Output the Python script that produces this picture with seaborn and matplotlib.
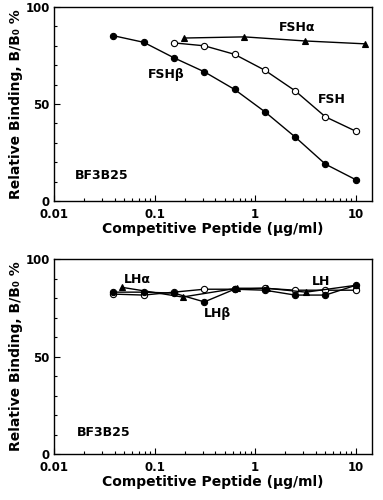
import numpy as np
import pandas as pd
import matplotlib
matplotlib.use("Agg")
import matplotlib.pyplot as plt
import seaborn as sns

# dose series (ug/ml), two-fold dilutions
dose = [0.039, 0.078, 0.156, 0.3125, 0.625, 1.25, 2.5, 5, 10]

# top panel: FSH family
fsh_beta = [85.2, 81.8, 73.8, 66.6, 57.5, 46, 33, 19, 11]
fsh_x = [0.156, 0.3125, 0.625, 1.25, 2.5, 5, 10]
fsh = [81.5, 80, 75.6, 67.4, 56.8, 43.4, 36]
fsh_alpha_x = [0.195, 0.78, 3.125, 12.5]
fsh_alpha = [84, 84.6, 82.5, 81]

# bottom panel: LH family
lh_beta = [83, 83, 82.5, 78, 84.5, 84, 81.5, 81.5, 86.5]
lh = [82, 81.5, 83, 84.5, 84.5, 85, 84, 84, 84]
lh_alpha_x = [0.047, 0.19, 0.66, 1.3, 3.2, 10]
lh_alpha = [85.5, 80.5, 85, 85, 83, 86.5]

sns.set_theme(style="ticks", rc={
    "text.color": "black",
    "axes.labelcolor": "black",
    "xtick.color": "black",
    "ytick.color": "black",
    "axes.edgecolor": "black",
})
plt.rcParams["font.family"] = ["DejaVu Sans"]
plt.rcParams["font.weight"] = "bold"

fig = plt.figure(figsize=(3.83, 5.0), dpi=100)
ax1 = fig.add_axes([0.141, 0.598, 0.830, 0.388])
ax2 = fig.add_axes([0.141, 0.092, 0.830, 0.390])

def series(ax, x, y, marker, filled=True):
    sns.lineplot(x=x, y=y, ax=ax, color="black", lw=1.0, marker=marker,
                 markersize=4.5, markeredgecolor="black", markeredgewidth=0.8,
                 markerfacecolor="black" if filled else "white")

series(ax1, dose, fsh_beta, "o")
series(ax1, fsh_x, fsh, "o", filled=False)
series(ax1, fsh_alpha_x, fsh_alpha, "^")

series(ax2, dose, lh, "o", filled=False)
series(ax2, lh_alpha_x, lh_alpha, "^")
series(ax2, dose, lh_beta, "o")

txt = dict(fontsize=9, fontweight="bold", ha="center", va="center", color="black")
ax1.text(2.6, 89.4, "FSHα", **txt)
ax1.text(0.132, 65.3, "FSHβ", **txt)
ax1.text(5.8, 52.3, "FSH", **txt)
ax1.text(0.0296, 13, "BF3B25", **txt)

ax2.text(0.067, 89.7, "LHα", **txt)
ax2.text(0.42, 72.3, "LHβ", **txt)
ax2.text(4.5, 88.5, "LH", **txt)
ax2.text(0.031, 10.8, "BF3B25", **txt)

for ax in (ax1, ax2):
    ax.set_xscale("log")
    ax.set_xlim(0.01, 14.5)
    ax.set_ylim(0, 100)
    ax.set_xticks([0.01, 0.1, 1, 10])
    ax.set_xticklabels(["0.01", "0.1", "1", "10"])
    ax.set_yticks([0, 50, 100])
    ax.set_yticks(range(10, 100, 10), minor=True)
    ax.xaxis.set_minor_locator(matplotlib.ticker.LogLocator(base=10, subs=np.arange(2, 10)))
    ax.xaxis.set_minor_formatter(matplotlib.ticker.NullFormatter())
    ax.tick_params(which="both", direction="in", labelsize=8.5, width=0.8, colors="black")
    ax.tick_params(which="major", length=4)
    ax.tick_params(axis="x", which="major", pad=5)
    ax.tick_params(axis="y", which="major", pad=3)
    ax.tick_params(which="minor", length=2.5)
    for lab in ax.get_xticklabels() + ax.get_yticklabels():
        lab.set_fontweight("bold")
    for s in ax.spines.values():
        s.set_linewidth(1.0)
        s.set_color("black")
    ax.set_xlabel("Competitive Peptide (μg/ml)", fontsize=10, fontweight="bold", labelpad=1)
    ax.set_ylabel("Relative Binding, B/B₀ %", fontsize=10, fontweight="bold", labelpad=2)

fig.savefig("out.png", dpi=100)
